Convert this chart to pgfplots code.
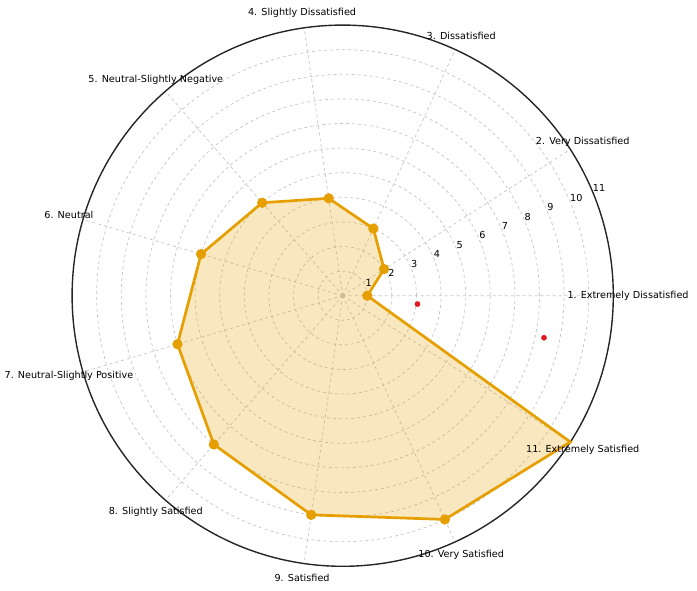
\documentclass[border=0pt]{standalone}
\usepackage{fontspec}
\setmainfont{DejaVu Sans}
\usepackage{pgfplots}
\pgfplotsset{compat=1.18}
\usepgfplotslibrary{polar}
\definecolor{sat}{HTML}{E69F00}
\definecolor{txt}{HTML}{262626}
\definecolor{gridc}{HTML}{C4C4C4}
\definecolor{dotred}{HTML}{E31A1C}
\begin{document}
\begin{tikzpicture}[x=1pt,y=1pt]
\fontsize{9.65}{11.6}\selectfont
\begin{polaraxis}[
    at={(342.7pt,295.3pt)}, anchor=center,
    scale only axis, width=541.2pt, height=541.2pt,
    ymin=0, ymax=11,
    xtick={0,32.727,65.455,98.182,130.909,163.636,196.364,229.091,261.818,294.545,327.273},
    ytick={1,2,3,4,5,6,7,8,9,10},
    xticklabels={}, yticklabels={},
    major tick length=0pt,
    grid=major,
    major grid style={gridc, dashed, line width=0.7pt},
    x axis line style={txt, line width=1.4pt},
    y axis line style={draw=none},
    clip=false,
    every node/.style={text=txt},
]
% satisfaction profile
\addplot[sat, line width=2.7pt, fill=sat, fill opacity=0.25, draw opacity=1,
    mark=*, mark size=3.7pt, mark options={fill=sat, fill opacity=1},
    mark indices={1,2,3,4,5,6,7,8,9,10}]
    coordinates {(0,1) (32.727,2) (65.455,3) (98.182,4) (130.909,5) (163.636,6)
                 (196.364,7) (229.091,8) (261.818,9) (294.545,10) (327.273,11) (0,1)};
% two red points
\addplot[only marks, mark=*, mark size=2.6pt, color=dotred]
    coordinates {(353.6,3.06) (348.2,8.36)};

% radial tick labels
\node[anchor=south west, inner sep=0pt] at (axis cs:22.5,1) {1};
\node[anchor=south west, inner sep=0pt] at (axis cs:22.5,2) {2};
\node[anchor=south west, inner sep=0pt] at (axis cs:22.5,3) {3};
\node[anchor=south west, inner sep=0pt] at (axis cs:22.5,4) {4};
\node[anchor=south west, inner sep=0pt] at (axis cs:22.5,5) {5};
\node[anchor=south west, inner sep=0pt] at (axis cs:22.5,6) {6};
\node[anchor=south west, inner sep=0pt] at (axis cs:22.5,7) {7};
\node[anchor=south west, inner sep=0pt] at (axis cs:22.5,8) {8};
\node[anchor=south west, inner sep=0pt] at (axis cs:22.5,9) {9};
\node[anchor=south west, inner sep=0pt] at (axis cs:22.5,10) {10};
\node[anchor=south west, inner sep=0pt] at (axis cs:22.5,11) {11};

% category labels
\node at (axis cs:0,11.6) {1. Extremely Dissatisfied};
\node at (axis cs:32.727,11.6) {2. Very Dissatisfied};
\node at (axis cs:65.455,11.6) {3. Dissatisfied};
\node at (axis cs:98.182,11.6) {4. Slightly Dissatisfied};
\node at (axis cs:130.909,11.6) {5. Neutral-Slightly Negative};
\node at (axis cs:163.636,11.6) {6. Neutral};
\node at (axis cs:196.364,11.6) {7. Neutral-Slightly Positive};
\node at (axis cs:229.091,11.6) {8. Slightly Satisfied};
\node at (axis cs:261.818,11.6) {9. Satisfied};
\node at (axis cs:294.545,11.6) {10. Very Satisfied};
\node at (axis cs:327.273,11.6) {11. Extremely Satisfied};
\end{polaraxis}
\pgfresetboundingbox
\useasboundingbox (0,0) rectangle (697,591);
\end{tikzpicture}
\end{document}
